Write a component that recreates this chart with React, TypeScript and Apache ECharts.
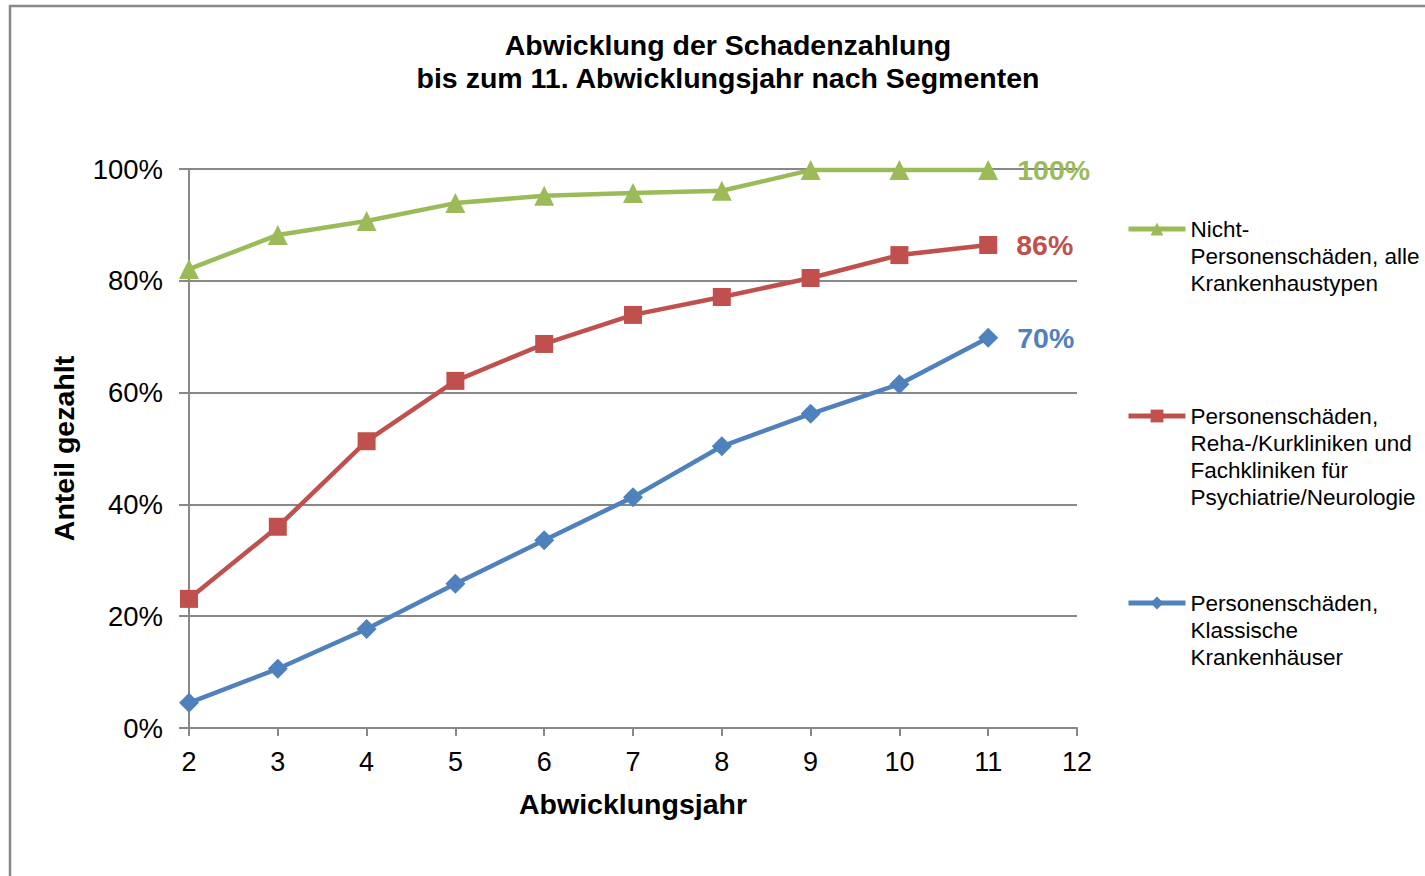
import React, { useEffect, useRef } from "react";
import * as echarts from "echarts";

const years = [2, 3, 4, 5, 6, 7, 8, 9, 10, 11];
const greenValues = [0.821, 0.882, 0.907, 0.939, 0.952, 0.957, 0.961, 0.998, 0.998, 0.998];
const redValues = [0.231, 0.36, 0.513, 0.621, 0.687, 0.739, 0.771, 0.805, 0.846, 0.864];
const blueValues = [0.045, 0.106, 0.177, 0.258, 0.336, 0.413, 0.504, 0.562, 0.615, 0.698];
const seriesNames = [
  "Nicht-\nPersonenschäden, alle\nKrankenhaustypen",
  "Personenschäden,\nReha-/Kurkliniken und\nFachkliniken für\nPsychiatrie/Neurologie",
  "Personenschäden,\nKlassische\nKrankenhäuser",
];
const endLabels = ["100%", "86%", "70%"];
const titleText = "Abwicklung der Schadenzahlung\nbis zum 11. Abwicklungsjahr nach Segmenten";
const xName = "Abwicklungsjahr";
const yName = "Anteil gezahlt";

const FONT = "'Liberation Sans', Arial, sans-serif";
const colors = ["#9BBB59", "#C0504D", "#4F81BD"];
const symbols = ["triangle", "rect", "diamond"];

function buildData(values: number[], label: string, color: string) {
  const last = values.length - 1;
  return values.map((v, i) =>
    i === last
      ? {
          value: [years[i], v],
          label: {
            show: true,
            position: "right",
            distance: 19,
            formatter: () => label,
            color,
            fontFamily: FONT,
            fontSize: 28.5,
            fontWeight: "bold",
          },
        }
      : { value: [years[i], v] }
  );
}

export default function App() {
  const ref = useRef<HTMLDivElement>(null);
  useEffect(() => {
    if (!ref.current) return;
    const chart = echarts.init(ref.current, null, { renderer: "svg" });
    const allValues = [greenValues, redValues, blueValues];
    chart.setOption({
      animation: false,
      backgroundColor: "#ffffff",
      title: {
        text: titleText,
        left: 728,
        top: 28,
        padding: 0,
        textAlign: "center",
        textStyle: {
          fontFamily: FONT,
          fontSize: 28.5,
          fontWeight: "bold",
          color: "#000",
          lineHeight: 33,
        },
      },
      graphic: [
        {
          type: "rect",
          shape: { x: 10, y: 6, width: 1600, height: 1000 },
          style: { fill: "none", stroke: "#888888", lineWidth: 2.5 },
          silent: true,
        },
      ],
      legend: {
        orient: "vertical",
        left: 1126,
        top: 161.5,
        padding: 0,
        itemGap: 25,
        itemWidth: 57,
        itemHeight: 16,
        lineStyle: { width: 5 },
        data: [seriesNames[0], seriesNames[1], seriesNames[2]],
        formatter: (name: string) => {
          const n = name.split("\n").length;
          return "\n".repeat(n - 1) + name;
        },
        textStyle: {
          fontFamily: FONT,
          fontSize: 22.5,
          lineHeight: 27,
          color: "#000",
        },
      },
      grid: { left: 189, right: 348, top: 169, bottom: 148 },
      xAxis: {
        type: "value",
        min: 2,
        max: 12,
        interval: 1,
        name: xName,
        nameLocation: "middle",
        nameGap: 61,
        nameTextStyle: {
          fontFamily: FONT,
          fontSize: 28.5,
          fontWeight: "bold",
          color: "#000",
        },
        axisLine: { show: true, lineStyle: { color: "#888888", width: 2 } },
        axisTick: { show: true, length: 8, lineStyle: { color: "#888888", width: 2 } },
        axisLabel: { fontFamily: FONT, fontSize: 27, color: "#000", margin: 20 },
        splitLine: { show: false },
      },
      yAxis: {
        type: "value",
        min: 0,
        max: 1,
        interval: 0.2,
        name: yName,
        nameLocation: "middle",
        nameGap: 111,
        nameTextStyle: {
          fontFamily: FONT,
          fontSize: 28.5,
          fontWeight: "bold",
          color: "#000",
        },
        axisLine: { show: true, lineStyle: { color: "#888888", width: 2 } },
        axisTick: { show: true, length: 10, lineStyle: { color: "#888888", width: 2 } },
        axisLabel: {
          fontFamily: FONT,
          fontSize: 27.5,
          color: "#000",
          margin: 26,
          formatter: (v: number) => Math.round(v * 100) + "%",
        },
        splitLine: { show: true, lineStyle: { color: "#888888", width: 2 } },
      },
      series: allValues.map((vals, k) => ({
        type: "line",
        name: seriesNames[k],
        data: buildData(vals, endLabels[k], colors[k]),
        color: colors[k],
        symbol: symbols[k],
        symbolSize: k === 1 ? 18 : 20,
        lineStyle: { width: 4.5, color: colors[k] },
        itemStyle: { color: colors[k] },
        z: 3 - k + 2,
      })),
    });
    return () => chart.dispose();
  }, []);
  return (
    <div
      ref={ref}
      style={{ position: "absolute", left: 0, top: 0, width: 1425, height: 876 }}
    />
  );
}
